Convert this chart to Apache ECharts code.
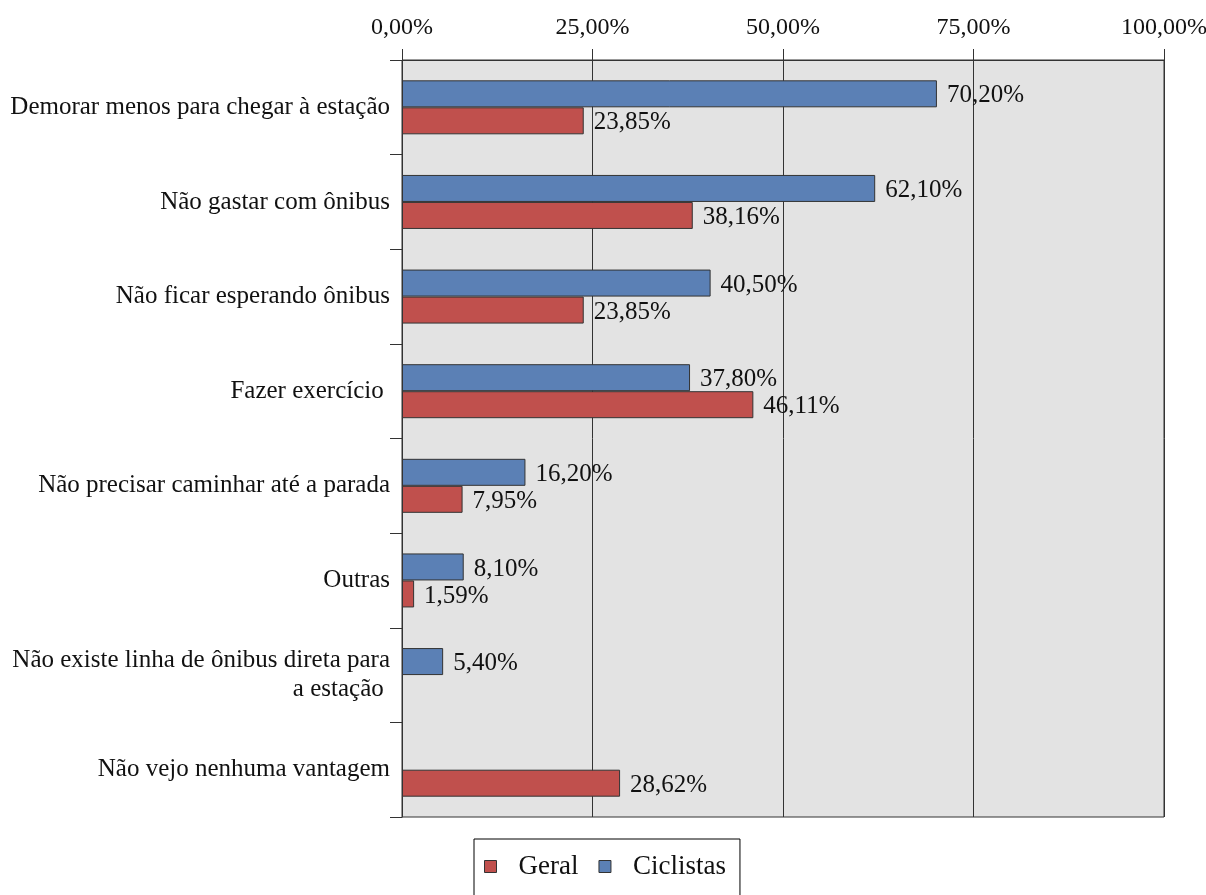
<!DOCTYPE html>
<html>
<head>
<meta charset="utf-8">
<script src="https://cdn.jsdelivr.net/npm/echarts@6/dist/echarts.min.js"></script>
<style>
  html, body { margin: 0; padding: 0; background: #ffffff; }
  #chart { width: 1206px; height: 895px; }
</style>
</head>
<body>
<div id="chart"></div>
<script>
// Motivos / vantagens citadas, em percentual
const categories = [
  'Demorar menos para chegar à estação',
  'Não gastar com ônibus',
  'Não ficar esperando ônibus',
  'Fazer exercício ',
  'Não precisar caminhar até a parada',
  'Outras',
  'Não existe linha de ônibus direta para\na estação ',
  'Não vejo nenhuma vantagem'
];
const geral     = [23.85, 38.16, 23.85, 46.11, 7.95, 1.59, null, 28.62];
const ciclistas = [70.20, 62.10, 40.50, 37.80, 16.20, 8.10, 5.40, null];
const xTicks = [0, 25, 50, 75, 100];

const FONT = "'Liberation Serif', 'DejaVu Serif', serif";
const INK = '#111111';
const LINE = '#333333';

const pct = v => Number(v).toFixed(2).replace('.', ',') + '%';

const barLabel = {
  show: true,
  position: 'right',
  distance: 10,
  offset: [0, 2],
  color: INK,
  fontFamily: FONT,
  fontSize: 25,
  formatter: p => pct(p.value)
};

const chart = echarts.init(document.getElementById('chart'), null, { renderer: 'canvas' });

chart.setOption({
  animation: false,
  backgroundColor: '#ffffff',
  textStyle: { fontFamily: FONT, color: INK },
  grid: {
    left: 402, right: 42, top: 60, bottom: 78,
    outerBoundsMode: 'none',
    containLabel: false,
    show: true,
    backgroundColor: '#e3e3e3',
    borderColor: LINE,
    borderWidth: 1
  },
  legend: {
    data: ['Geral', 'Ciclistas'],
    left: 474,
    top: 839,
    padding: [14, 14, 16, 10],
    itemWidth: 12,
    itemHeight: 12,
    itemGap: 20,
    borderColor: '#000000',
    borderWidth: 1,
    icon: 'rect',
    itemStyle: { borderColor: LINE, borderWidth: 1 },
    textStyle: { fontFamily: FONT, fontSize: 27, color: INK, padding: [0, 0, 0, 17] }
  },
  xAxis: {
    type: 'value',
    position: 'top',
    min: xTicks[0],
    max: xTicks[xTicks.length - 1],
    interval: 25,
    axisLine: { show: true, lineStyle: { color: LINE, width: 1 } },
    axisTick: { show: true, length: 11, lineStyle: { color: LINE } },
    splitLine: { show: true, lineStyle: { color: LINE, width: 1 } },
    axisLabel: {
      margin: 20,
      color: INK,
      fontFamily: FONT,
      fontSize: 24,
      formatter: v => pct(v)
    }
  },
  yAxis: {
    type: 'category',
    data: categories,
    inverse: true,
    axisLine: { show: true, lineStyle: { color: LINE, width: 1 } },
    axisTick: { show: true, length: 12, lineStyle: { color: LINE } },
    splitLine: { show: false },
    axisLabel: {
      margin: 12,
      color: INK,
      fontFamily: FONT,
      fontSize: 25,
      lineHeight: 29,
      align: 'right'
    }
  },
  series: [
    {
      name: 'Ciclistas',
      type: 'bar',
      data: ciclistas,
      barWidth: 27,
      barGap: '0%',
      itemStyle: { color: '#5b80b5', borderColor: LINE, borderWidth: 1 },
      label: barLabel
    },
    {
      name: 'Geral',
      type: 'bar',
      data: geral,
      barWidth: 27,
      barGap: '0%',
      itemStyle: { color: '#c0504d', borderColor: LINE, borderWidth: 1 },
      label: barLabel
    }
  ]
});
</script>
</body>
</html>
